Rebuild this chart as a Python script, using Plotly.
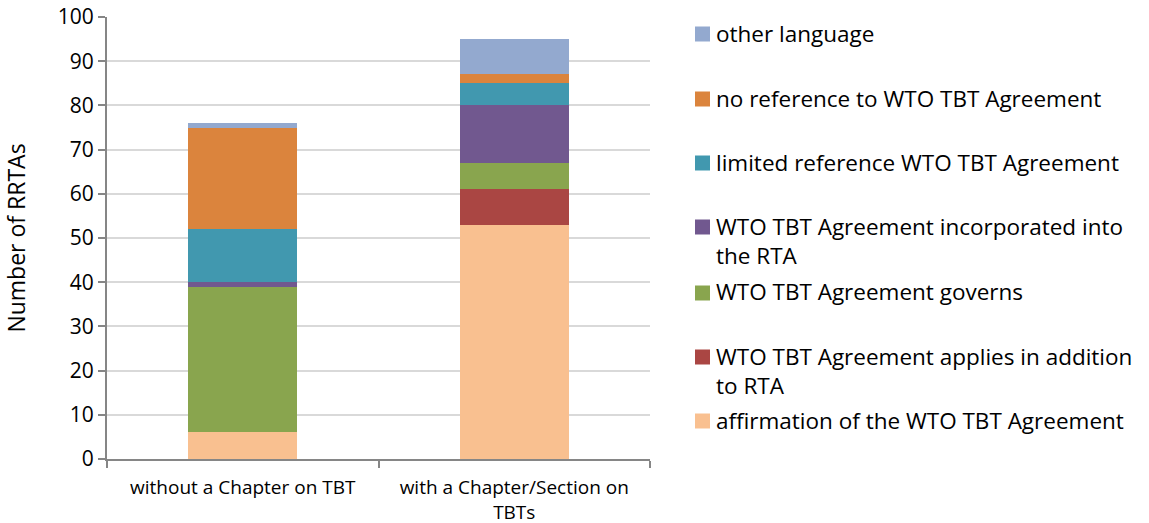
import plotly.graph_objects as go

categories = ["without a Chapter on TBT", "with a Chapter/Section on<br>TBTs"]
series_names = [
    "affirmation of the WTO TBT Agreement",
    "WTO TBT Agreement applies in addition<br>to RTA",
    "WTO TBT Agreement governs",
    "WTO TBT Agreement incorporated into<br>the RTA",
    "limited reference WTO TBT Agreement",
    "no reference to WTO TBT Agreement",
    "other language",
]
affirmation = [6, 53]
applies_in_addition = [0, 8]
governs = [33, 6]
incorporated = [1, 13]
limited_reference = [12, 5]
no_reference = [23, 2]
other_language = [1, 8]
series_values = [affirmation, applies_in_addition, governs, incorporated,
                 limited_reference, no_reference, other_language]
colors = ["#F9C090", "#AA4643", "#89A54E", "#71588F", "#4198AF", "#DB843D", "#93A9CF"]

FONT = "Open Sans"
fig = go.Figure()
for name, vals, col in zip(series_names, series_values, colors):
    fig.add_trace(go.Bar(x=categories, y=vals, name=name, marker_color=col,
                         marker_line_width=0, width=0.4, showlegend=False))

# plot area geometry (screen pixels)
L, R, T, B = 107, 650, 17, 459
W, H = R - L, B - T
FW, FH = 1149, 523

def px_x(p):
    return (p - L) / W

def px_y(p):
    return (B - p) / H

# manual legend, top to bottom: reverse of stack order
legend_rows = [34, 99, 163, 227, 293, 357, 421]
for i, row in enumerate(legend_rows):
    idx = len(series_names) - 1 - i
    fig.add_shape(type="rect", xref="paper", yref="paper",
                  x0=px_x(695), x1=px_x(710), y0=px_y(row + 7.5), y1=px_y(row - 7.5),
                  fillcolor=colors[idx], line_width=0)
    fig.add_annotation(xref="paper", yref="paper", x=px_x(714), y=px_y(row - 18.5),
                       xanchor="left", yanchor="top", align="left", showarrow=False,
                       text=series_names[idx], font=dict(family=FONT, size=22.5, color="#000"))

fig.update_layout(
    barmode="stack",
    width=FW, height=FH,
    margin=dict(l=L, r=FW - R, t=T, b=FH - B, autoexpand=False),
    plot_bgcolor="white", paper_bgcolor="white",
    font=dict(family=FONT, color="#000"),
)
fig.update_yaxes(range=[0, 100], dtick=10, showgrid=True, gridcolor="#D9D9D9", gridwidth=2,
                 showline=True, linecolor="#868686", linewidth=2, ticks="outside", ticklen=7,
                 tickcolor="#868686", tickwidth=2, tickfont=dict(family=FONT, size=21),
                 ticklabeloverflow="allow",
                 title=dict(text="Number of RRTAs", font=dict(family=FONT, size=23), standoff=38),
                 zeroline=False, automargin=False)
fig.update_xaxes(showline=True, linecolor="#868686", linewidth=2, ticks="outside", ticklen=7,
                 tickcolor="#868686", tickwidth=2, tickson="boundaries", automargin=False,
                 ticklabelstandoff=10, ticklabeloverflow="allow",
                 tickfont=dict(family=FONT, size=19))

fig.write_html("out.html", config={"displayModeBar": False},
               post_script="document.body.style.margin='0';")
